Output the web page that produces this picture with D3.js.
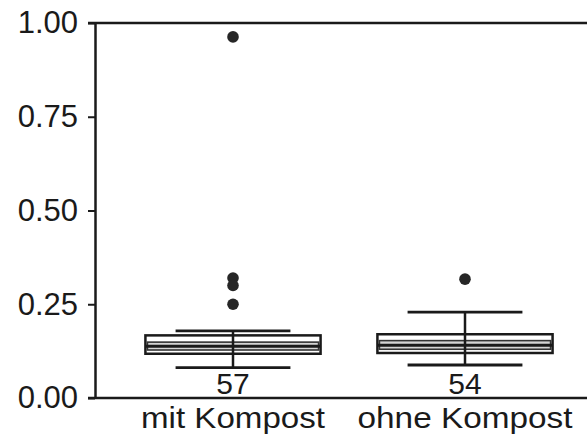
<!DOCTYPE html>
<html><head><meta charset="utf-8">
<script src="https://cdn.jsdelivr.net/npm/d3@7"></script>
<style>body{margin:0;background:#fff}svg{display:block}text{font-family:"Liberation Sans",Arial,sans-serif;fill:#1a1a1a}</style>
</head><body><svg id="c" width="587" height="437"></svg>
<script>
const categories = ["mit Kompost", "ohne Kompost"];
const counts = [57, 54];
const q1 = [0.118, 0.120];
const q3 = [0.167, 0.170];
const medians = [0.138, 0.141];
const ciLow = [0.128, 0.130];
const ciHigh = [0.149, 0.153];
const whiskerLow = [0.081, 0.088];
const whiskerHigh = [0.179, 0.229];
const outliers = [[0.963, 0.32, 0.30, 0.25], [0.317]];
const yTicks = [0, 0.25, 0.5, 0.75, 1.0];

const svg = d3.select("#c");
const col = "#1a1a1a";
const y = d3.scaleLinear().domain([0, 1]).range([398, 23]);
const x = d3.scaleBand().domain(categories).range([117, 581]);
const bw = x.bandwidth();
const axisX = 95;

svg.append("line").attr("x1", 88).attr("x2", 587).attr("y1", y(1)).attr("y2", y(1)).attr("stroke", col).attr("stroke-width", 2.5);
svg.append("line").attr("x1", 88).attr("x2", 587).attr("y1", y(0)).attr("y2", y(0)).attr("stroke", col).attr("stroke-width", 2.5);

const ax = svg.append("g").attr("transform", `translate(${axisX},0)`)
  .call(d3.axisLeft(y).tickValues(yTicks).tickFormat(d3.format(".2f")).tickSizeInner(7).tickSizeOuter(0).tickPadding(10));
ax.select(".domain").attr("stroke", col).attr("stroke-width", 2.5);
ax.selectAll(".tick line").attr("stroke", col).attr("stroke-width", 2);
ax.selectAll(".tick text").attr("font-size", 31).attr("fill", "#1a1a1a")
  .attr("font-family", "Liberation Sans, Arial, sans-serif");

categories.forEach((c, i) => {
  const cx = x(c) + bw / 2;
  const boxW = bw * 0.755, capW = bw * 0.495;
  const g = svg.append("g");
  g.append("line").attr("x1", cx).attr("x2", cx).attr("y1", y(whiskerLow[i])).attr("y2", y(whiskerHigh[i])).attr("stroke", col).attr("stroke-width", 2.5);
  [whiskerLow[i], whiskerHigh[i]].forEach(v => {
    g.append("line").attr("x1", cx - capW / 2).attr("x2", cx + capW / 2).attr("y1", y(v)).attr("y2", y(v)).attr("stroke", col).attr("stroke-width", 2.8);
  });
  g.append("rect").attr("x", cx - boxW / 2).attr("width", boxW)
    .attr("y", y(q3[i])).attr("height", y(q1[i]) - y(q3[i]))
    .attr("fill", "#fff").attr("stroke", col).attr("stroke-width", 2.5);
  g.append("rect").attr("x", cx - boxW / 2 + 2).attr("width", boxW - 4)
    .attr("y", y(ciHigh[i])).attr("height", y(ciLow[i]) - y(ciHigh[i]))
    .attr("fill", "#d4d4d4").attr("stroke", "#333").attr("stroke-width", 1.6);
  g.append("line").attr("x1", cx - boxW / 2).attr("x2", cx + boxW / 2).attr("y1", y(medians[i])).attr("y2", y(medians[i])).attr("stroke", col).attr("stroke-width", 3);
  g.append("line").attr("x1", cx).attr("x2", cx).attr("y1", y(q3[i])).attr("y2", y(q1[i])).attr("stroke", col).attr("stroke-width", 2.5);
  outliers[i].forEach(v => {
    g.append("circle").attr("cx", cx).attr("cy", y(v)).attr("r", 5.8).attr("fill", "#262626");
  });
  g.append("text").attr("x", cx).attr("y", 394).attr("text-anchor", "middle").attr("font-size", 30).text(counts[i]);
  g.append("text").attr("x", cx).attr("y", 428).attr("text-anchor", "middle").attr("font-size", 29)
    .attr("textLength", i === 0 ? 184 : 215).attr("lengthAdjust", "spacingAndGlyphs").text(c);
});
</script></body></html>
